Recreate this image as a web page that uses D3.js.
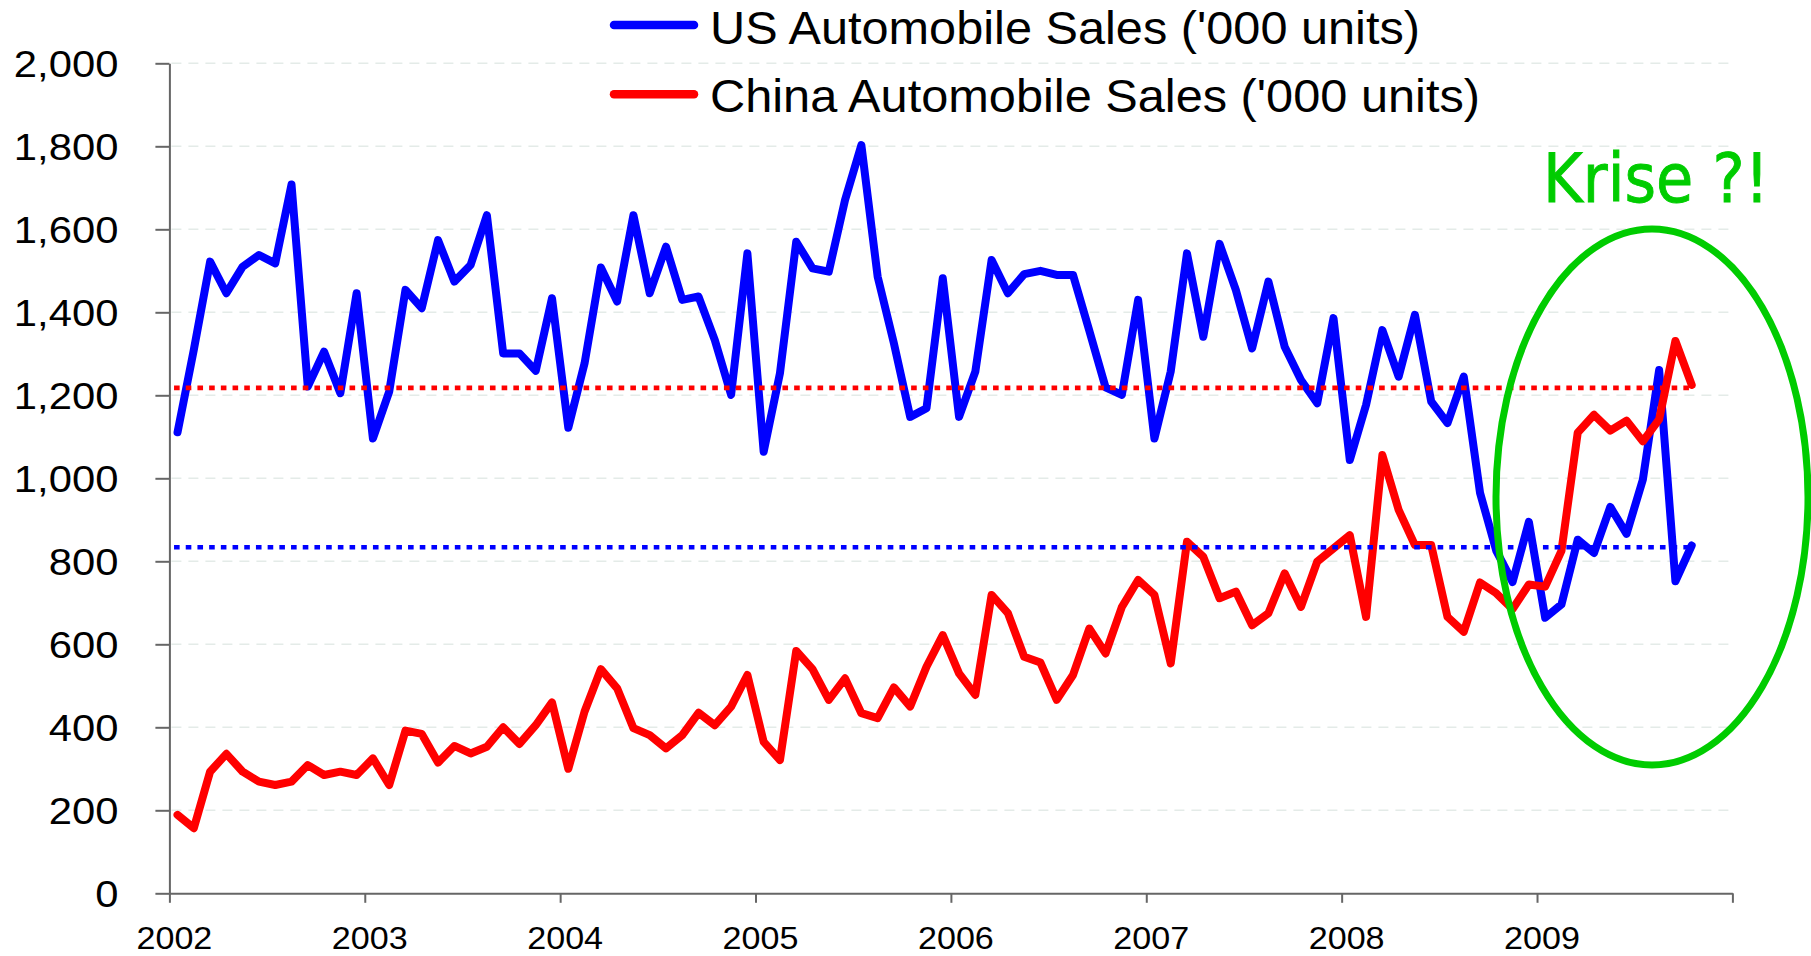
<!DOCTYPE html>
<html><head><meta charset="utf-8">
<script src="https://cdn.jsdelivr.net/npm/d3@7"></script>
<style>html,body{margin:0;padding:0;background:#fff;} svg{display:block}</style>
</head><body><svg id="chart" width="1811" height="956"></svg>
<script>
// ---------- data ----------
const years = ["2002","2003","2004","2005","2006","2007","2008","2009"];
const yTicks = [0,200,400,600,800,1000,1200,1400,1600,1800,2000];
const seriesNames = ["US Automobile Sales ('000 units)", "China Automobile Sales ('000 units)"];
// monthly, Jan 2002 .. Oct 2009
const usSales = [
  1111,1310,1522,1446,1510,1538,1518,1708,1221,1305,1205,1446,
  1096,1209,1454,1410,1574,1474,1514,1634,1301,1301,1259,1434,
  1122,1277,1508,1426,1634,1446,1558,1430,1438,1333,1201,1542,
  1064,1253,1570,1506,1498,1671,1803,1486,1325,1148,1169,1482,
  1148,1257,1526,1446,1492,1500,1490,1490,1356,1219,1201,1430,
  1096,1257,1542,1341,1565,1454,1313,1474,1317,1237,1181,1386,
  1044,1177,1357,1245,1394,1185,1133,1245,965,825,750,895,
  664,696,852,820,931,866,997,1261,752,838
];
const chinaSales = [
  189,157,293,336,293,269,261,269,309,285,293,285,
  325,261,392,384,315,355,337,353,400,360,405,460,
  300,438,540,494,398,381,349,381,435,405,450,526,
  365,321,584,540,466,518,434,422,496,450,546,622,
  530,478,719,675,570,556,466,526,638,578,690,755,
  719,554,847,811,711,727,646,675,771,690,799,831,
  863,666,1056,924,839,839,666,630,749,723,685,744,
  739,825,1110,1153,1115,1139,1089,1142,1331,1225
];
const usReference = 834;
const chinaReference = 1218;
const annotationText = "Krise ?!";

// ---------- layout ----------
const plot = {left:169.4, right:1732.4, top:63.3, bottom:893.3};
const BLUE = "#0000ff", RED = "#ff0000", GREEN = "#00cc00";
const nMonths = years.length * 12;

const svg = d3.select("#chart");
svg.append("rect").attr("width",1811).attr("height",956).attr("fill","#fff");

const x = d3.scaleLinear().domain([0, nMonths]).range([plot.left, plot.right]);
const y = d3.scaleLinear().domain([0, 2000]).range([plot.bottom, plot.top]);
const xi = i => x(i + 0.5);

// gridlines
svg.append("g").selectAll("line").data(yTicks.filter(d => d > 0)).join("line")
  .attr("x1", plot.left + 2).attr("x2", plot.right)
  .attr("y1", d => y(d)).attr("y2", d => y(d))
  .attr("stroke", "#e4ebe8").attr("stroke-width", 1.5).attr("stroke-dasharray", "10 7");

// y axis
const yAxis = svg.append("g").attr("transform", `translate(${plot.left},0)`)
  .call(d3.axisLeft(y).tickValues(yTicks).tickSize(14).tickSizeOuter(0).tickFormat(d3.format(",")));
yAxis.select(".domain").attr("stroke", "#666").attr("stroke-width", 2);
yAxis.selectAll(".tick line").attr("stroke", "#666").attr("stroke-width", 2);
yAxis.selectAll(".tick text")
  .attr("x", 0).attr("dy", "0.36em")
  .attr("transform", "translate(-51,0) scale(1.13,1)")
  .attr("font-family", "'Liberation Sans', Arial, sans-serif")
  .attr("font-size", 37).attr("fill", "#000");

// x axis
const xAxis = svg.append("g").attr("transform", `translate(0,${plot.bottom})`)
  .call(d3.axisBottom(x).tickValues(d3.range(0, nMonths + 1, 12)).tickSize(9.5).tickSizeOuter(0).tickFormat(""));
xAxis.select(".domain").attr("stroke", "#666").attr("stroke-width", 2);
xAxis.selectAll(".tick line").attr("stroke", "#666").attr("stroke-width", 2);

svg.append("g").selectAll("text").data(years).join("text")
  .attr("transform", (d, k) => `translate(${x(k * 12) + 5},948.5) scale(1.1,1)`)
  .attr("text-anchor", "middle")
  .attr("font-family", "'Liberation Sans', Arial, sans-serif")
  .attr("font-size", 31).attr("fill", "#000")
  .text(d => d);

// data lines
const line = d3.line().x((d, i) => xi(i)).y(d => y(d));
svg.append("path").datum(usSales).attr("d", line)
  .attr("fill", "none").attr("stroke", BLUE).attr("stroke-width", 8)
  .attr("stroke-linejoin", "round").attr("stroke-linecap", "round");
svg.append("path").datum(chinaSales).attr("d", line)
  .attr("fill", "none").attr("stroke", RED).attr("stroke-width", 8)
  .attr("stroke-linejoin", "round").attr("stroke-linecap", "round");

// reference dotted lines
[[usReference, BLUE, usSales.length], [chinaReference, RED, chinaSales.length]].forEach(([v, c, n]) => {
  svg.append("line")
    .attr("x1", xi(0) - 3.5).attr("x2", xi(n - 1))
    .attr("y1", y(v)).attr("y2", y(v))
    .attr("stroke", c).attr("stroke-width", 4.6).attr("stroke-dasharray", "5.6 6.1");
});

// annotation ellipse + text
svg.append("ellipse").attr("cx", 1652).attr("cy", 497).attr("rx", 156).attr("ry", 268)
  .attr("fill", "none").attr("stroke", GREEN).attr("stroke-width", 7);
svg.append("text").attr("x", 1543).attr("y", 201.7)
  .attr("font-family", "'DejaVu Sans', Verdana, sans-serif").attr("font-size", 67)
  .attr("textLength", 226).attr("lengthAdjust", "spacingAndGlyphs")
  .attr("fill", GREEN).attr("stroke", GREEN).attr("stroke-width", 0.9)
  .text(annotationText);

// legend
const legend = [
  {name: seriesNames[0], color: BLUE, ly: 25, ty: 44, len: 710},
  {name: seriesNames[1], color: RED, ly: 94.3, ty: 111.5, len: 770}
];
legend.forEach(l => {
  svg.append("line").attr("x1", 614).attr("x2", 694).attr("y1", l.ly).attr("y2", l.ly)
    .attr("stroke", l.color).attr("stroke-width", 8.5).attr("stroke-linecap", "round");
  svg.append("text").attr("x", 710).attr("y", l.ty)
    .attr("font-family", "'Liberation Sans', Arial, sans-serif").attr("font-size", 46)
    .attr("textLength", l.len).attr("lengthAdjust", "spacingAndGlyphs")
    .attr("fill", "#000").text(l.name);
});
</script>
</body></html>
